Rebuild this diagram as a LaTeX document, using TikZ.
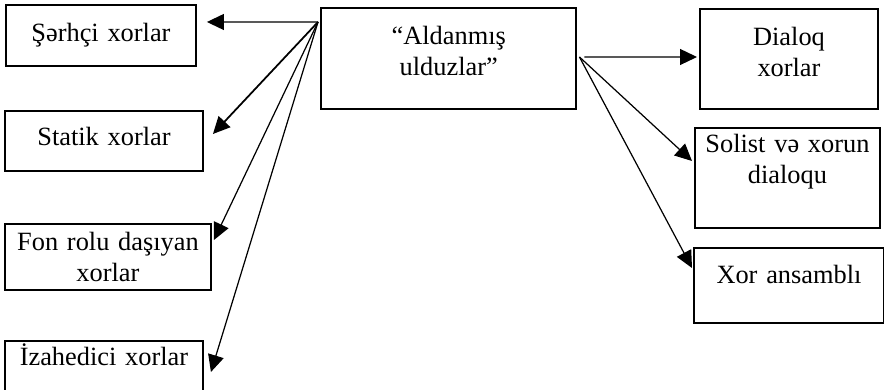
\documentclass[tikz,border=0pt]{standalone}
\usepackage{fontspec}
\setmainfont{Liberation Serif}
\usetikzlibrary{arrows.meta}

\begin{document}
\begin{tikzpicture}[
    box/.style={draw, line width=1.1pt, anchor=north west, align=center, inner xsep=0pt, inner ysep=0pt, font=\fontsize{15}{17.6}\selectfont},
    link/.style={line width=0.7pt, -{Triangle[length=0.34cm, width=0.32cm]}}
]
    \useasboundingbox (0,0) rectangle (17.68,7.8);

    % Central box
    \node[box, line width=1.4pt, text width=5.1cm, text height=0.72cm, text depth=1.3cm] (main) at (6.4,7.66) {“Aldanmış\\ulduzlar”};

    % Left column
    \node[box, text width=3.8cm, text height=0.74cm, text depth=0.48cm] (serh) at (0.1,7.72) {Şərhçi xorlar};
    \node[box, text width=3.96cm, text height=0.7cm, text depth=0.5cm] (statik) at (0.08,5.6) {Statik xorlar};
    \node[box, text width=4.12cm, text height=0.54cm, text depth=0.78cm] (fon) at (0.08,3.34) {Fon rolu daşıyan\\xorlar};
    \node[box, text width=3.96cm, text height=0.5cm, text depth=0.7cm] (izah) at (0.08,1.0) {İzahedici xorlar};

    % Right column
    \node[box, text width=3.56cm, text height=0.74cm, text depth=1.26cm] (dialoq) at (13.98,7.64) {Dialoq\\xorlar};
    \node[box, text width=3.7cm, text height=0.5cm, text depth=1.5cm] (solist) at (13.88,5.26) {Solist və xorun\\dialoqu};
    \node[box, text width=3.8cm, text height=0.72cm, text depth=0.78cm] (ansambl) at (13.86,2.86) {Xor ansamblı};

    % Arrow ends
    \coordinate (srcL) at ([shift={(-0.04,-0.3)}]main.north west);
    \coordinate (srcR) at ([shift={(0.04,-1.0)}]main.north east);
    \coordinate (srcD) at ([shift={(0.14,-1.0)}]main.north east);
    \coordinate (tserh) at ([shift={(0.2,-0.36)}]serh.north east);
    \coordinate (tstatik) at ([shift={(0.18,-0.48)}]statik.north east);
    \coordinate (tfon) at ([shift={(0.04,-0.34)}]fon.north east);
    \coordinate (tizah) at ([shift={(0.14,-0.64)}]izah.north east);
    \coordinate (tdialoq) at ([shift={(-0.04,-0.98)}]dialoq.north west);
    \coordinate (tsolist) at ([shift={(-0.04,-0.68)}]solist.north west);
    \coordinate (tansambl) at ([shift={(-0.02,-0.42)}]ansambl.north west);

    % Arrows
    \draw[link] (srcL) -- (tserh);
    \draw[link, line width=1pt] (srcL) -- (tstatik);
    \draw[link] (srcL) -- (tfon);
    \draw[link] (srcL) -- (tizah);
    \draw[link] (srcD) -- (tdialoq);
    \draw[link] (srcR) -- (tsolist);
    \draw[link] (srcR) -- (tansambl);
\end{tikzpicture}
\end{document}
